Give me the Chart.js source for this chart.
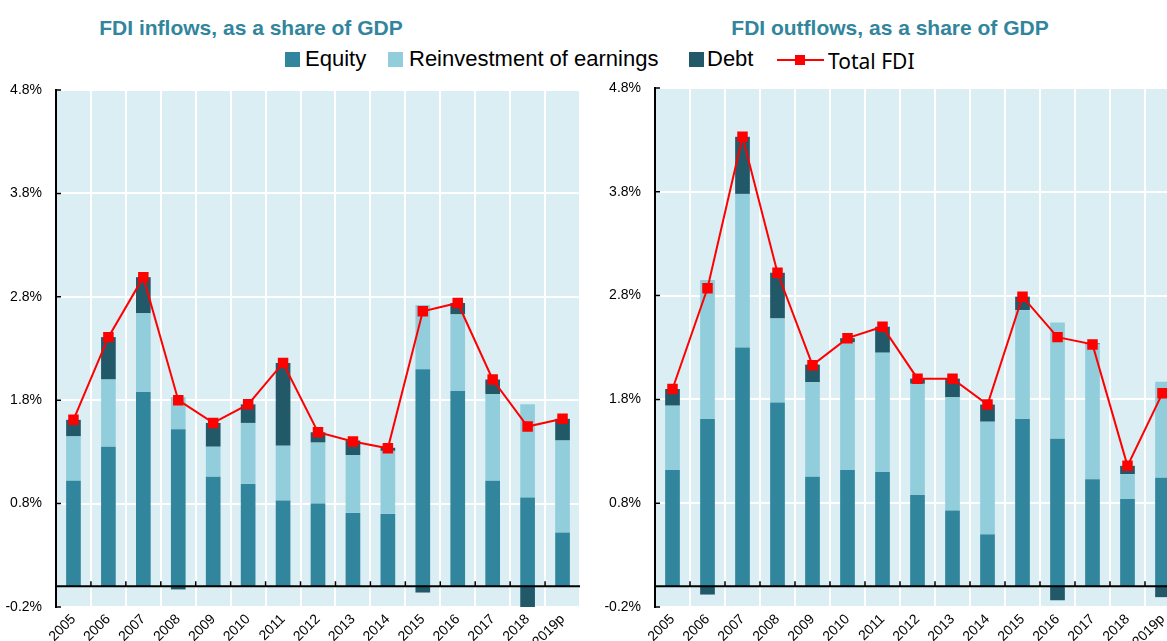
<!DOCTYPE html>
<html>
<head>
<meta charset="utf-8">
<script src="https://cdn.jsdelivr.net/npm/chart.js"></script>
<style>
  html, body { margin: 0; padding: 0; background: #fff; overflow: hidden; }
  body { width: 1167px; height: 641px; position: relative; font-family: "Liberation Sans", Arial, sans-serif; }
  .title { position: absolute; top: 16px; font-weight: bold; font-size: 21px; color: #31859C; white-space: nowrap; transform: translateX(-50%); }
  .box { position: absolute; }
  .leg { position: absolute; top: 46px; font-size: 22px; color: #000; white-space: nowrap; }
  .sq { position: absolute; top: 52px; width: 15px; height: 15px; }
</style>
</head>
<body>
<div class="title" style="left:251px">FDI inflows, as a share of GDP</div>
<div class="title" style="left:890px">FDI outflows, as a share of GDP</div>

<div class="sq" style="left:285px;background:#31859C"></div>
<div class="leg" style="left:305px">Equity</div>
<div class="sq" style="left:388px;background:#92CDDC"></div>
<div class="leg" style="left:409px">Reinvestment of earnings</div>
<div class="sq" style="left:689px;background:#215968"></div>
<div class="leg" style="left:707px">Debt</div>
<div style="position:absolute;left:777px;top:59px;width:47px;height:2px;background:#ff0000"></div>
<div style="position:absolute;left:795px;top:55px;width:10px;height:10px;background:#ff0000"></div>
<div class="leg" style="left:828px;top:47px;font-family:'Noto Sans','Open Sans',sans-serif;font-size:21px">Total FDI</div>

<div class="box" style="left:0;top:0;width:580px;height:641px"><canvas id="inChart"></canvas></div>
<div class="box" style="left:600px;top:0;width:580px;height:641px"><canvas id="outChart"></canvas></div>

<script>
var years = ['2005','2006','2007','2008','2009','2010','2011','2012','2013','2014','2015','2016','2017','2018','2019p'];

// inflows, % of GDP
var inEquity = [1.02, 1.35, 1.88, 1.52, 1.06, 0.99, 0.83, 0.80, 0.71, 0.70, 2.10, 1.89, 1.02, 0.86, 0.52];
var inReinv  = [0.43, 0.65, 0.76, 0.31, 0.29, 0.59, 0.53, 0.59, 0.56, 0.61, 0.62, 0.74, 0.84, 0.90, 0.89];
var inDebt   = [0.16, 0.41, 0.35, -0.03, 0.23, 0.18, 0.80, 0.10, 0.14, 0.03, -0.06, 0.11, 0.14, -0.21, 0.21];
var inTotal  = [1.61, 2.41, 2.99, 1.80, 1.58, 1.76, 2.16, 1.49, 1.40, 1.335, 2.66, 2.74, 2.00, 1.545, 1.62];

// outflows, % of GDP
var outEquity = [1.12, 1.61, 2.30, 1.77, 1.055, 1.12, 1.10, 0.88, 0.73, 0.50, 1.61, 1.42, 1.03, 0.84, 1.045];
var outReinv  = [0.62, 1.34, 1.48, 0.81, 0.91, 1.23, 1.15, 1.07, 1.09, 1.085, 1.05, 1.12, 1.30, 0.24, 0.925];
var outDebt   = [0.16, -0.08, 0.55, 0.44, 0.17, 0.04, 0.25, 0.05, 0.18, 0.165, 0.13, -0.135, 0.01, 0.08, -0.105];
var outTotal  = [1.90, 2.87, 4.33, 3.02, 2.13, 2.39, 2.50, 2.00, 2.00, 1.75, 2.79, 2.40, 2.33, 1.16, 1.86];

var yMin = -0.2, yMax = 4.8, yStep = 1;

// plot background, zero line and the small black tick marks
var plotDeco = {
    id: 'plotDeco',
    beforeDraw: function (chart) {
        var a = chart.chartArea, ctx = chart.ctx;
        ctx.save();
        ctx.fillStyle = '#DAEEF3';
        ctx.fillRect(a.left, a.top, a.right - a.left, a.bottom - a.top);
        ctx.restore();
    },
    afterDatasetsDraw: function (chart) {
        var a = chart.chartArea, ctx = chart.ctx;
        var y0 = chart.scales.y.getPixelForValue(0);
        var x = chart.scales.x;
        ctx.save();
        ctx.strokeStyle = '#000';
        ctx.lineWidth = 2;
        ctx.beginPath();
        ctx.moveTo(a.left, y0);
        ctx.lineTo(a.right, y0);
        ctx.stroke();
        ctx.lineWidth = 1.5;
        ctx.beginPath();
        for (var i = 1; i < years.length; i++) {
            var bx = (x.getPixelForValue(i - 1) + x.getPixelForValue(i)) / 2;
            ctx.moveTo(bx, y0);
            ctx.lineTo(bx, y0 - 5);
        }
        chart.scales.y.ticks.forEach(function (t) {
            var ty = chart.scales.y.getPixelForValue(t.value);
            ctx.moveTo(a.left, ty);
            ctx.lineTo(a.left + 5, ty);
        });
        ctx.stroke();
        ctx.restore();
    }
};

makeChart = function (id, equity, reinv, debt, total, topPad, axisW) {
    new Chart(document.getElementById(id), {
        type: 'bar',
        data: {
            labels: years,
            datasets: [
                {type: 'line', label: 'Total FDI', data: total, stack: 'line', order: 0,
                 borderColor: '#ff0000', backgroundColor: '#ff0000', borderWidth: 2,
                 pointStyle: 'rect', pointRadius: 6, pointHoverRadius: 6, tension: 0},
                {label: 'Equity', data: equity, backgroundColor: '#31859C', stack: 'fdi', order: 1},
                {label: 'Reinvestment of earnings', data: reinv, backgroundColor: '#92CDDC', stack: 'fdi', order: 1},
                {label: 'Debt', data: debt, backgroundColor: '#215968', stack: 'fdi', order: 1}
            ]
        },
        options: {
            responsive: true,
            maintainAspectRatio: false,
            animation: false,
            layout: {autoPadding: false, padding: {top: topPad, right: 0, left: 0, bottom: 0}},
            datasets: {bar: {barPercentage: 0.42, categoryPercentage: 1}},
            plugins: {legend: {display: false}, title: {display: false}, tooltip: {enabled: false}},
            scales: {
                x: {
                    stacked: true,
                    grid: {color: '#ffffff', lineWidth: 2, offset: true, drawTicks: false},
                    border: {display: false},
                    ticks: {minRotation: 45, maxRotation: 45, padding: 4, color: '#000',
                            font: {family: "'Liberation Sans', Arial", size: 14}},
                    afterFit: function (s) { s.height = 34; s.paddingRight = 0; s.paddingLeft = 0; }
                },
                y: {
                    stacked: true,
                    min: yMin, max: yMax,
                    grid: {color: '#ffffff', lineWidth: 2, drawTicks: false},
                    border: {display: true, color: '#000', width: 2},
                    ticks: {stepSize: yStep, padding: 14, color: '#000',
                            font: {family: "'Liberation Sans', Arial", size: 14},
                            callback: function (v) { return v.toFixed(1) + '%'; }},
                    afterFit: function (s) { s.width = axisW; }
                }
            }
        },
        plugins: [plotDeco]
    });
}

makeChart('inChart', inEquity, inReinv, inDebt, inTotal, 90, 56);
makeChart('outChart', outEquity, outReinv, outDebt, outTotal, 88, 55);
</script>
</body>
</html>
